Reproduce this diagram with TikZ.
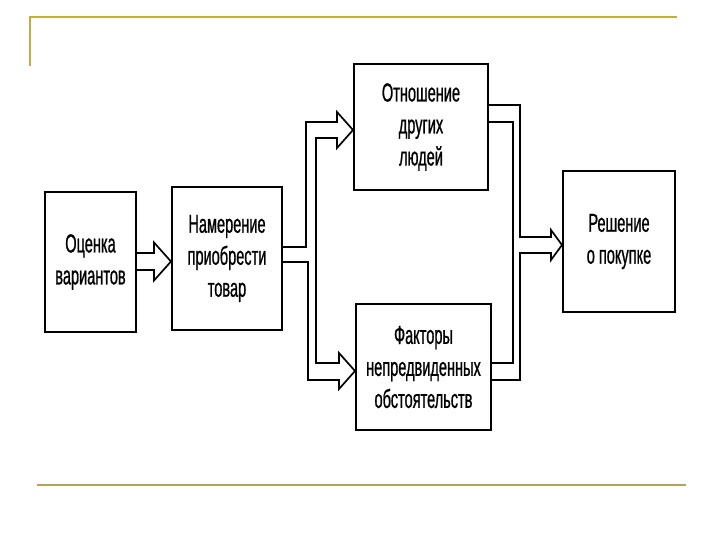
\documentclass[tikz,border=0pt]{standalone}
\usepackage{fontspec}
\setmainfont{Liberation Sans}[FakeStretch=0.56,FakeBold=0.8]
\usepackage{xcolor}
\usepackage{tikz}
\usetikzlibrary{calc}
\definecolor{goldtop}{RGB}{198,174,62}
\definecolor{goldbot}{RGB}{184,160,84}

\begin{document}
\begin{tikzpicture}[x=1pt,y=-1pt]
\tikzstyle{box} = [draw, line width=2pt, align=center, inner sep=0pt, font=\fontsize{26}{32}\selectfont]
\tikzstyle{pipe} = [line width=1.7pt, line join=miter]%
%
\useasboundingbox (0,0) rectangle (720,540);
	\draw[goldtop, line width=2.4pt] (30,66) -- (30,17) -- (677,17);
	\draw[goldbot, line width=2.4pt] (37,485) -- (686,485);

	\node[box, minimum width=91pt, minimum height=140pt] (ocenka) at (90.5,262) {\raisebox{4pt}{\begin{tabular}{@{}c@{}}Оценка\\вариантов\end{tabular}}};
	\node[box, minimum width=110pt, minimum height=143pt] (namer) at (227,258.5) {Намерение\\приобрести\\товар};
	\node[box, minimum width=134pt, minimum height=126pt] (otnosh) at (421,127) {Отношение\\других\\людей};
	\node[box, minimum width=135pt, minimum height=126pt] (faktory) at (423.5,367) {Факторы\\непредвиденных\\обстоятельств};
	\node[box, minimum width=112pt, minimum height=141pt] (reshenie) at (619,241.5) {Решение\\о покупке};

	\draw[pipe] ($(ocenka.east)+(0,-9)$) -| ($(namer.west)+(-17,-16)$) -- ($(namer.west)+(0,3)$)
		-- ($(namer.west)+(-17,22)$) |- ($(ocenka.east)+(0,8)$);

	\draw[pipe] ($(namer.east)+(0,-11.5)$) -| ($(otnosh.west)+(-47,-5)$) -- ($(otnosh.west)+(-16,-5)$)
		-- ($(otnosh.west)+(-16,-15)$) -- ($(otnosh.west)+(0,3)$) -- ($(otnosh.west)+(-16,21)$)
		-- ($(otnosh.west)+(-16,11)$) -- ($(otnosh.west)+(-37,11)$) |- ($(faktory.west)+(-16,-4)$)
		-- ($(faktory.west)+(-16,-14)$) -- ($(faktory.west)+(0,4)$) -- ($(faktory.west)+(-16,22)$)
		-- ($(faktory.west)+(-16,13)$) -| ($(namer.east)+(25,3.5)$) -- ($(namer.east)+(0,3.5)$);

	\draw[pipe] ($(otnosh.east)+(0,-22)$) -| ($(reshenie.west)+(-42,-4.5)$) -- ($(reshenie.west)+(-11,-4.5)$)
		-- ($(reshenie.west)+(-11,-11.5)$) -- ($(reshenie.west)+(0,3.5)$) -- ($(reshenie.west)+(-11,18.5)$)
		-- ($(reshenie.west)+(-11,11.5)$) -- ($(reshenie.west)+(-42,11.5)$) |- ($(faktory.east)+(0,13)$);
	\draw[pipe] ($(otnosh.east)+(0,-5)$) -| ($(faktory.east)+(21,-4)$) -- ($(faktory.east)+(0,-4)$);
\end{tikzpicture}
\end{document}
